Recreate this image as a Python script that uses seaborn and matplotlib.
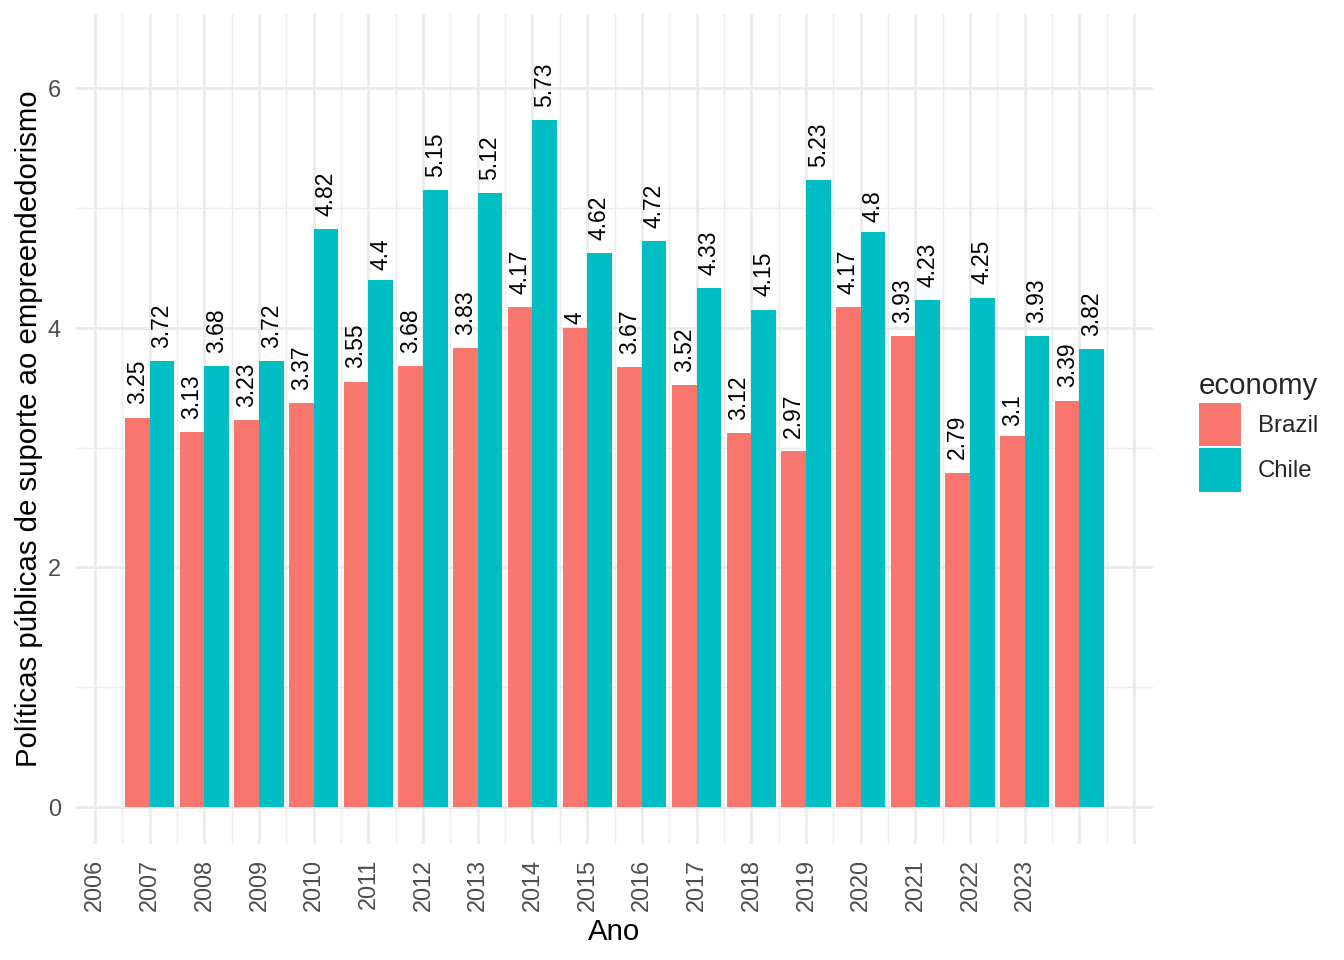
import numpy as np
import pandas as pd
import matplotlib
matplotlib.use("Agg")
import matplotlib.pyplot as plt
import seaborn as sns

# data
years = [2007, 2008, 2009, 2010, 2011, 2012, 2013, 2014, 2015,
         2016, 2017, 2018, 2019, 2020, 2021, 2022, 2023, 2024]
brazil = [3.25, 3.13, 3.23, 3.37, 3.55, 3.68, 3.83, 4.17, 4,
          3.67, 3.52, 3.12, 2.97, 4.17, 3.93, 2.79, 3.1, 3.39]
chile = [3.72, 3.68, 3.72, 4.82, 4.4, 5.15, 5.12, 5.73, 4.62,
         4.72, 4.33, 4.15, 5.23, 4.8, 4.23, 4.25, 3.93, 3.82]
economies = ["Brazil", "Chile"]
tick_labels = ["2006", "2007", "2008", "2009", "2010", "2011", "2012", "2013", "2014",
               "2015", "2016", "2017", "2018", "2019", "2020", "2021", "2022", "2023"]
colors = ["#F8766D", "#00BFC4"]

df = pd.DataFrame({
    "year": years * 2,
    "economy": [economies[0]] * len(brazil) + [economies[1]] * len(chile),
    "value": brazil + chile,
})

sns.set_style("white")
plt.rcParams["font.family"] = ["Liberation Sans", "DejaVu Sans"]

W, H = 1344, 960
fig = plt.figure(figsize=(7, 5), dpi=192)
ax = fig.add_axes([76 / W, 1 - 844 / H, (1153 - 76) / W, (844 - 14) / H])

sns.barplot(data=df, x="year", y="value", hue="economy", native_scale=True,
            width=0.9, gap=0, palette=colors, saturation=1, errorbar=None,
            linewidth=0, ax=ax)

# value labels, pushed up by 0.3 of their own width (like hjust=-0.3)
fs_lab = 8.6
for cont, vals in zip(ax.containers, [brazil, chile]):
    for bar, v in zip(cont, vals):
        s = f"{v:g}"
        w_em = sum(0.278 if c == "." else 0.556 for c in s)
        ax.annotate(s, (bar.get_x() + bar.get_width() / 2, bar.get_height()),
                    xytext=(0, 0.3 * w_em * fs_lab), textcoords="offset points",
                    rotation=90, ha="center", va="bottom", fontsize=fs_lab, color="black")

first = int(tick_labels[0])
ax.set_xlim(first - 0.345, first + 19.345)
ax.set_ylim(-0.309, 6.618)

major_x = np.arange(first, first + 20)
ax.set_xticks(major_x)
ax.set_xticklabels(tick_labels + [""] * (len(major_x) - len(tick_labels)), rotation=90)
ax.set_xticks(major_x[:-1] + 0.5, minor=True)
ax.set_yticks([0, 2, 4, 6])
ax.set_yticklabels(["0", "2", "4", "6"])
ax.set_yticks([1, 3, 5], minor=True)

ax.set_axisbelow(True)
ax.grid(which="major", color="#EBEBEB", lw=1.07)
ax.grid(which="minor", color="#EBEBEB", lw=0.53)
for sp in ax.spines.values():
    sp.set_visible(False)
ax.tick_params(which="both", length=0)
ax.tick_params(axis="both", labelsize=8.8, labelcolor="#4D4D4D", pad=5.6)

ax.set_xlabel("Ano", fontsize=11, color="black", labelpad=2.5)
ax.set_ylabel("Políticas públicas de suporte ao empreendedorismo", fontsize=11,
              color="black", labelpad=2)

sns.move_legend(ax, loc="center left", bbox_to_anchor=(1187 / W, 1 - 432 / H),
                bbox_transform=fig.transFigure, frameon=False, title="economy",
                fontsize=9, title_fontsize=11, handlelength=1.75, handleheight=2.4,
                labelspacing=0.1, handletextpad=0.7, borderpad=0, alignment="left")

fig.savefig("out.png", dpi=192)
